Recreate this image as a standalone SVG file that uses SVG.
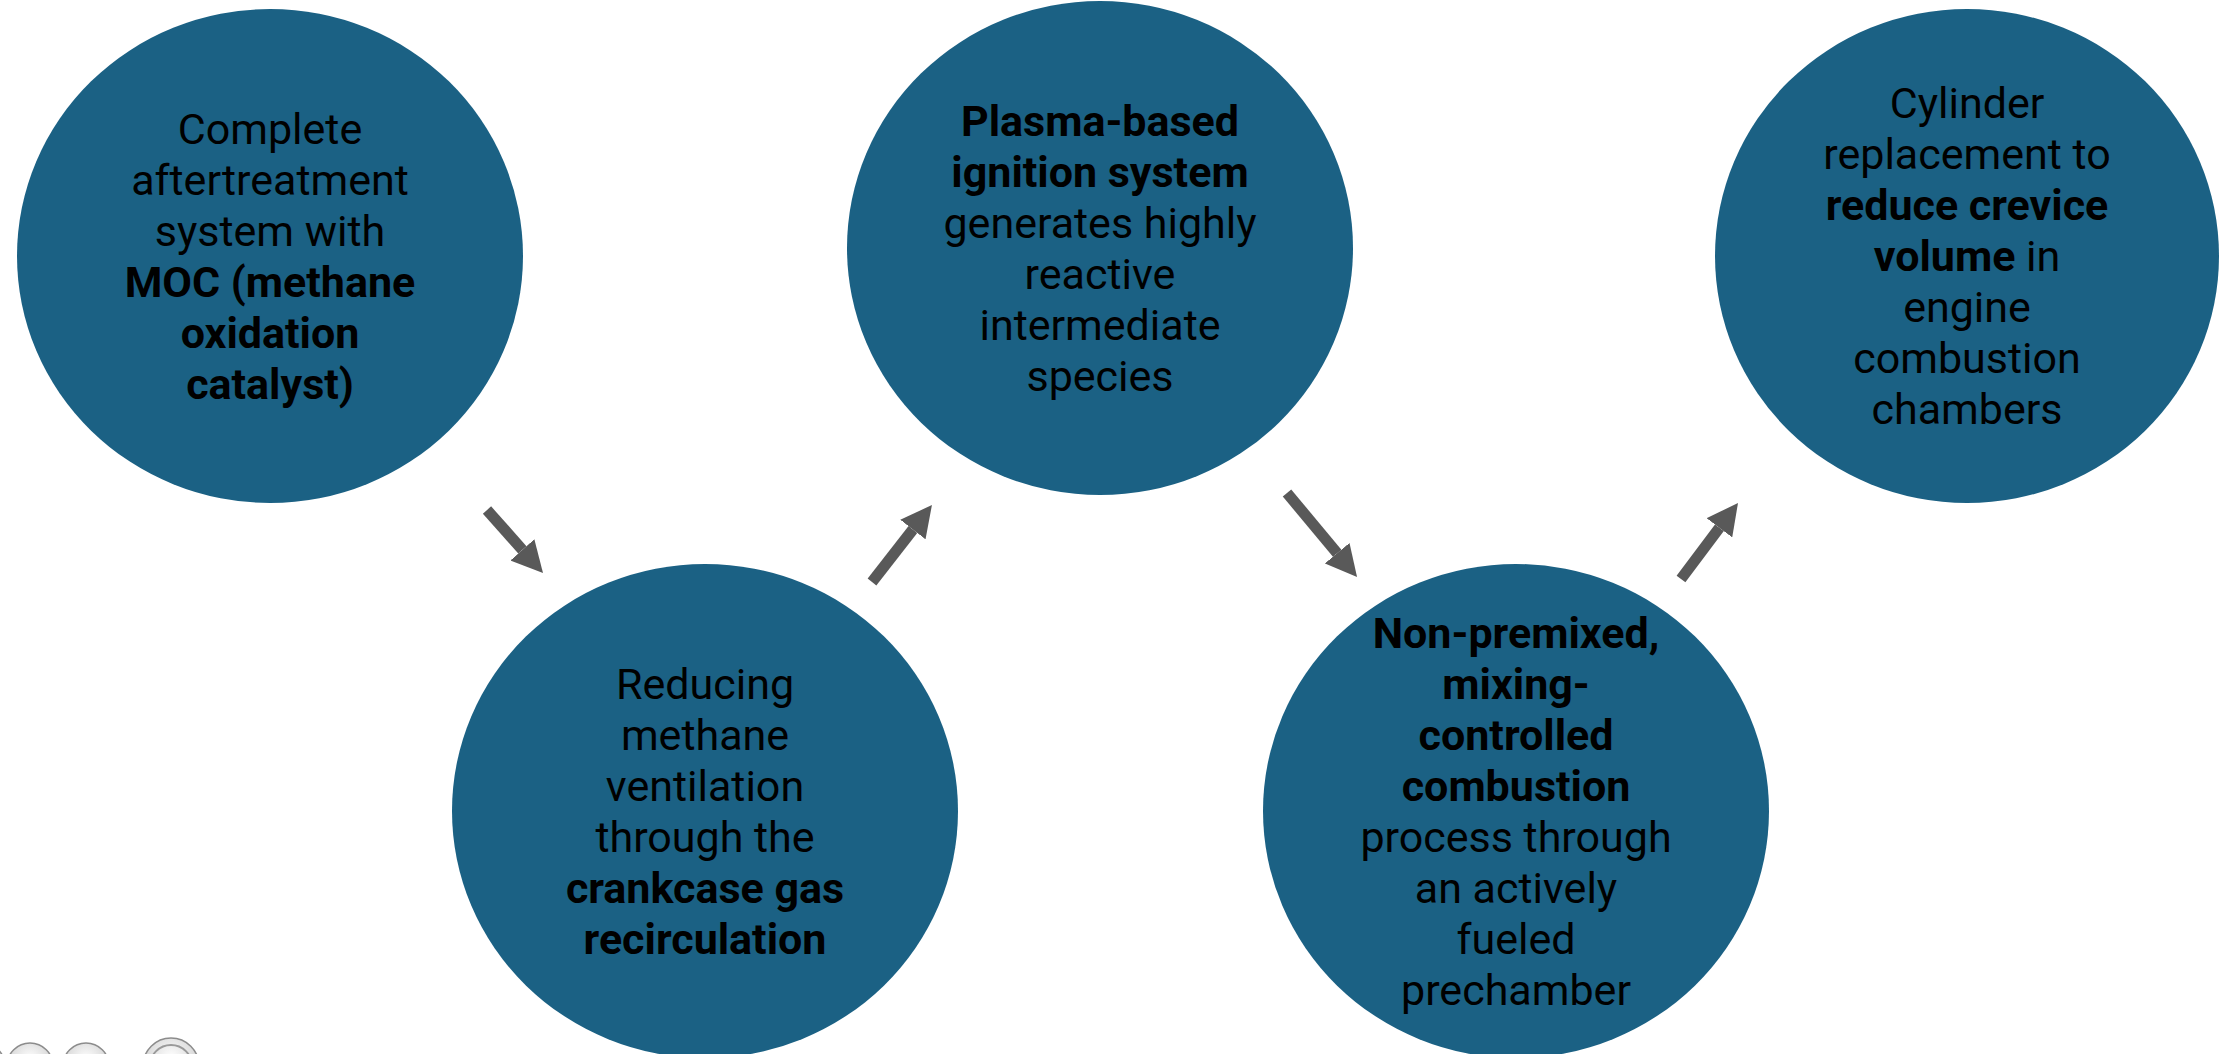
<svg xmlns="http://www.w3.org/2000/svg" width="2226" height="1054" viewBox="0 0 2226 1054">
<style>
.node{fill:#1b6184}
.t{font-family:Roboto,"Liberation Sans",sans-serif;font-size:43px;fill:#000;text-anchor:middle}
.b{font-weight:700}
.conn{stroke:#595959;stroke-width:11;fill:none}
</style>
<defs>
<marker id="ah" markerUnits="userSpaceOnUse" markerWidth="32" markerHeight="32" refX="0" refY="16" orient="auto">
<path d="M0,0 L31,16 L0,32 z" fill="#595959"/>
</marker>
<radialGradient id="ball" cx="50%" cy="35%" r="60%">
<stop offset="0" stop-color="#ffffff"/>
<stop offset="0.7" stop-color="#dcdcdc"/>
<stop offset="1" stop-color="#a8a8a8"/>
</radialGradient>
</defs>
<rect width="2226" height="1054" fill="#fff"/>
<g id="node1">
<ellipse class="node" cx="270" cy="256" rx="253" ry="247"/>
<text class="t" x="270" y="143.5">Complete</text>
<text class="t" x="270" y="194.5">aftertreatment</text>
<text class="t" x="270" y="245.5">system with</text>
<text class="t b" x="270" y="296.5">MOC (methane</text>
<text class="t b" x="270" y="347.5">oxidation</text>
<text class="t b" x="270" y="398.5">catalyst)</text>
</g>
<g id="node2">
<ellipse class="node" cx="705" cy="811" rx="253" ry="247"/>
<text class="t" x="705" y="698.5">Reducing</text>
<text class="t" x="705" y="749.5">methane</text>
<text class="t" x="705" y="800.5">ventilation</text>
<text class="t" x="705" y="851.5">through the</text>
<text class="t b" x="705" y="902.5">crankcase gas</text>
<text class="t b" x="705" y="953.5">recirculation</text>
</g>
<g id="node3">
<ellipse class="node" cx="1100" cy="248" rx="253" ry="247"/>
<text class="t b" x="1100" y="135.5">Plasma-based</text>
<text class="t b" x="1100" y="186.5">ignition system</text>
<text class="t" x="1100" y="237.5">generates highly</text>
<text class="t" x="1100" y="288.5">reactive</text>
<text class="t" x="1100" y="339.5">intermediate</text>
<text class="t" x="1100" y="390.5">species</text>
</g>
<g id="node4">
<ellipse class="node" cx="1516" cy="811" rx="253" ry="247"/>
<text class="t b" x="1516" y="647.5">Non-premixed,</text>
<text class="t b" x="1516" y="698.5">mixing-</text>
<text class="t b" x="1516" y="749.5">controlled</text>
<text class="t b" x="1516" y="800.5">combustion</text>
<text class="t" x="1516" y="851.5">process through</text>
<text class="t" x="1516" y="902.5">an actively</text>
<text class="t" x="1516" y="953.5">fueled</text>
<text class="t" x="1516" y="1004.5">prechamber</text>
</g>
<g id="node5">
<ellipse class="node" cx="1967" cy="256" rx="252" ry="247"/>
<text class="t" x="1967" y="118">Cylinder</text>
<text class="t" x="1967" y="169">replacement to</text>
<text class="t b" x="1967" y="220">reduce crevice</text>
<text class="t" x="1967" y="271"><tspan class="b">volume</tspan> in</text>
<text class="t" x="1967" y="322">engine</text>
<text class="t" x="1967" y="373">combustion</text>
<text class="t" x="1967" y="424">chambers</text>
</g>
<g id="connectors">
<line class="conn" x1="487" y1="510" x2="522.4" y2="549.8" marker-end="url(#ah)"/>
<line class="conn" x1="872" y1="582" x2="912.9" y2="529.5" marker-end="url(#ah)"/>
<line class="conn" x1="1287" y1="493" x2="1337.2" y2="553.2" marker-end="url(#ah)"/>
<line class="conn" x1="1681" y1="579" x2="1719.4" y2="527.8" marker-end="url(#ah)"/>
</g>
<g id="icons">
<circle cx="-18" cy="1066" r="23" fill="url(#ball)" stroke="#8c8c8c" stroke-width="1.5"/>
<circle cx="30" cy="1066" r="23" fill="url(#ball)" stroke="#8c8c8c" stroke-width="1.5"/>
<circle cx="86" cy="1066" r="23" fill="url(#ball)" stroke="#8c8c8c" stroke-width="1.5"/>
<circle cx="171" cy="1066" r="28" fill="url(#ball)" stroke="#8c8c8c" stroke-width="1.5"/>
<circle cx="171" cy="1066" r="21" fill="none" stroke="#9a9a9a" stroke-width="2"/>
</g>
</svg>
